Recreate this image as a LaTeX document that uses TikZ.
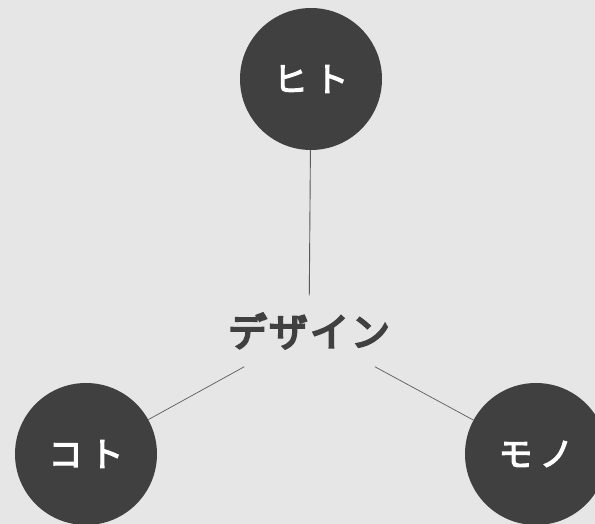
\documentclass[tikz,border=0pt]{standalone}
\usepackage{fontspec}
\newfontfamily\jpfont{Noto Sans CJK JP}
% stroke the glyphs as well as filling them, for a heavier weight
\newcommand\thicktext[3]{\special{pdf:literal 2 Tr #1 w #2 RG}#3\special{pdf:literal 0 Tr}}
\definecolor{bgGray}{HTML}{E6E6E6}
\definecolor{ballGray}{HTML}{404040}
\definecolor{lineGray}{HTML}{5A5A5A}
\begin{document}
\begin{tikzpicture}[
		x=1pt, y=-1pt,
		every node/.style={font=\jpfont\fontsize{34}{36}\selectfont},
		ball/.style={circle, fill=ballGray, text=white, minimum size=142pt, inner sep=0pt}
	]
  \fill[bgGray] (0,0) rectangle (595,524);
  \useasboundingbox (0,0) rectangle (595,524);
  \node (hito) [ball] at (311, 79) {\thicktext{1.2}{1 1 1}{ヒ\hspace{7pt}ト}};
  \node (koto) [ball] at (86, 454) {\thicktext{1.2}{1 1 1}{コ\hspace{7pt}ト}};
  \node (mono) [ball] at (536, 454) {\thicktext{1.2}{1 1 1}{モ\hspace{7pt}ノ}};
  \node (design) [text=ballGray, font=\jpfont\fontsize{39}{42}\selectfont,
    minimum width=200pt, minimum height=71pt, inner sep=0pt] at (309, 331)
    {\thicktext{2.0}{0.25 0.25 0.25}{デ\hspace{2pt}ザ\hspace{2pt}イ\hspace{2pt}ン}};
  \draw[lineGray, line width=0.9pt] (design) edge (hito);
  \draw[lineGray, line width=0.7pt] (design) edge (koto);
  \draw[lineGray, line width=0.7pt] (design) edge (mono);
\end{tikzpicture}
\end{document}
